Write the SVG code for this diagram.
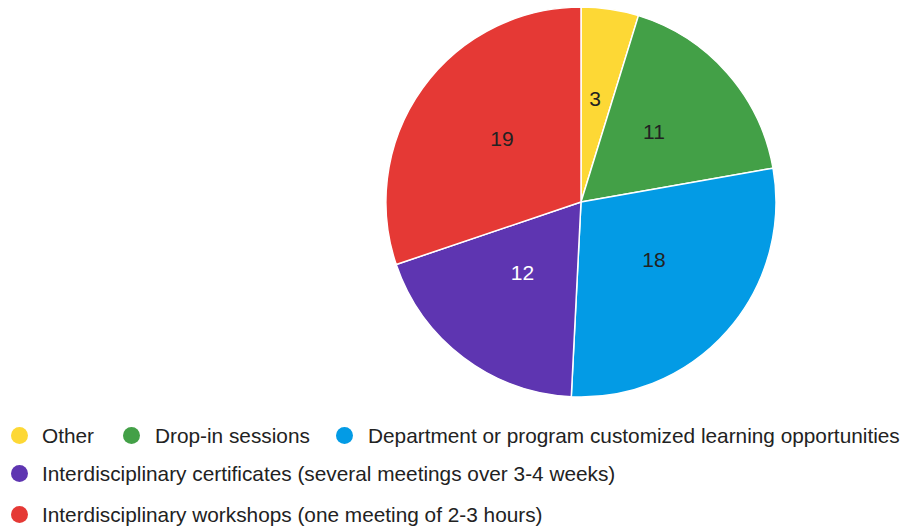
<svg xmlns="http://www.w3.org/2000/svg" width="901" height="529" viewBox="0 0 901 529">
<style>
.sl{stroke:#fff;stroke-width:1.5;stroke-linejoin:round}
.lb{font-family:"Liberation Sans",Arial,sans-serif;font-size:21px;text-anchor:middle;fill:#222}
.lg{font-family:"Liberation Sans",Arial,sans-serif;font-size:20.8px;fill:#222}
</style>
<rect width="901" height="529" fill="#fff"/>
<g id="pie">
<g id="slice-other"><path class="sl" fill="#FDD835" d="M581,202 L581,7 A195,195 0 0 1 638.45,15.65 Z"/><text class="lb" x="595" y="106">3</text></g>
<g id="slice-dropin"><path class="sl" fill="#43A047" d="M581,202 L638.45,15.65 A195,195 0 0 1 773.04,168.14 Z"/><text class="lb" x="654" y="139">11</text></g>
<g id="slice-dept"><path class="sl" fill="#039BE5" d="M581,202 L773.04,168.14 A195,195 0 0 1 571.28,396.76 Z"/><text class="lb" x="654" y="267">18</text></g>
<g id="slice-cert"><path class="sl" fill="#5E35B1" d="M581,202 L571.28,396.76 A195,195 0 0 1 396.20,264.52 Z"/><text class="lb" x="522.5" y="280" style="fill:#fff">12</text></g>
<g id="slice-workshops"><path class="sl" fill="#E53935" d="M581,202 L396.20,264.52 A195,195 0 0 1 581,7 Z"/><text class="lb" x="502" y="146">19</text></g>
</g>
<g id="legend">
<g id="lg-other"><circle cx="19.5" cy="435.5" r="8.5" fill="#FDD835"/><text class="lg" x="42" y="443">Other</text></g>
<g id="lg-dropin"><circle cx="131.5" cy="435.5" r="8.5" fill="#43A047"/><text class="lg" x="155" y="443">Drop-in sessions</text></g>
<g id="lg-dept"><circle cx="344.5" cy="435.5" r="8.5" fill="#039BE5"/><text class="lg" x="368" y="443">Department or program customized learning opportunities</text></g>
<g id="lg-cert"><circle cx="19.5" cy="473.5" r="8.5" fill="#5E35B1"/><text class="lg" x="42" y="481">Interdisciplinary certificates (several meetings over 3-4 weeks)</text></g>
<g id="lg-workshops"><circle cx="19.5" cy="514.5" r="8.5" fill="#E53935"/><text class="lg" x="42" y="522">Interdisciplinary workshops (one meeting of 2-3 hours)</text></g>
</g>
</svg>
